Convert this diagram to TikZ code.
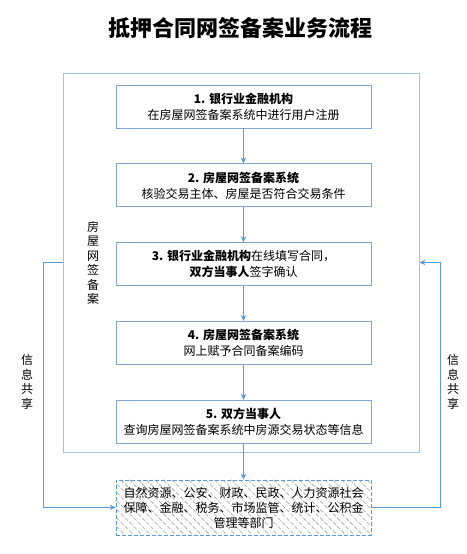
\documentclass[tikz,border=0pt]{standalone}
\usepackage{fontspec}
\setmainfont{Noto Sans CJK SC}
\usetikzlibrary{arrows.meta, positioning, patterns.meta}

\definecolor{flow}{RGB}{91,155,213}
\definecolor{frameline}{RGB}{157,195,230}
\definecolor{boxline}{RGB}{132,166,214}

\begin{document}
\begin{tikzpicture}[
            x = 1pt, y = -1pt, % pixel coordinates, y grows downwards
            > = {Stealth[length=6pt, width=5.5pt]}, % arrow head style
            node distance = 35pt, % gap between the steps
            line width = 0.8pt % line style
        ]

        \tikzstyle{stage}=[
            draw = boxline,
            fill = white,
            minimum width = 255pt,
            minimum height = 43pt,
            align = center,
            font = \fontsize{12}{16}\selectfont
        ]
        \tikzstyle{vlabel}=[
            align = center,
            font = \fontsize{12}{14.5}\selectfont
        ]

        \useasboundingbox (0,0) rectangle (466,554);

        \node[font=\fontsize{22}{26}\selectfont\bfseries] (title) at (240.5,28) {抵押合同网签备案业务流程};

        % outer frame of the system
        \node[draw = frameline, line width = 1pt, minimum width = 356pt, minimum height = 379pt] (frame) at (241,262.5) {};
        \node[vlabel] (system) at (93,263) {房\\屋\\网\\签\\备\\案};

        \node[stage] (b1) at (243.5,106.5) {\textbf{1. 银行业金融机构}\\在房屋网签备案系统中进行用户注册};
        \node[stage] (b2) [below=of b1] {\textbf{2. 房屋网签备案系统}\\核验交易主体、房屋是否符合交易条件};
        \node[stage] (b3) [below=of b2] {\textbf{3. 银行业金融机构}在线填写合同，\\\textbf{双方当事人}签字确认};
        \node[stage] (b4) [below=of b3] {\textbf{4. 房屋网签备案系统}\\网上赋予合同备案编码};
        \node[stage] (b5) [below=of b4] {\textbf{5. 双方当事人}\\查询房屋网签备案系统中房源交易状态等信息};

        \node[stage, below=36pt of b5, draw = flow, dash pattern = on 4pt off 2pt,
              pattern = {Lines[angle=-45, distance=6pt, line width=0.6pt]}, pattern color = black!35,
              minimum height = 55pt, font = \fontsize{12}{15}\selectfont] (dept)
              {自然资源、公安、财政、民政、人力资源社会\\保障、金融、税务、市场监管、统计、公积金\\管理等部门};

        \path[->, flow] (b1) edge (b2);
        \path[->, flow] (b2) edge (b3);
        \path[->, flow] (b3) edge (b4);
        \path[->, flow] (b4) edge (b5);
        \path[->, flow] (b5) edge (dept);

        % information sharing
        \draw[->, flow] (frame.west) -- ++(-19,0) |- (dept.west);
        \draw[->, flow] (dept.east) -- ++(69,0) |- (frame.east);
        \node[vlabel] (shareL) at (27,382) {信\\息\\共\\享};
        \node[vlabel] (shareR) at (453,382) {信\\息\\共\\享};

    \end{tikzpicture}
\end{document}
